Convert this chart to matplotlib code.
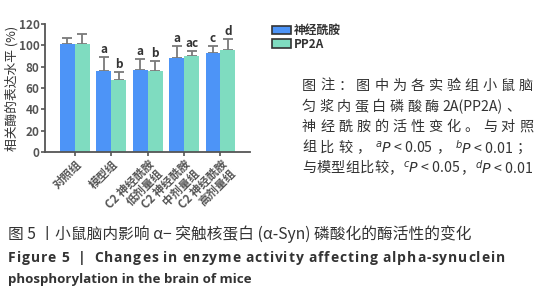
import numpy as np
import matplotlib
matplotlib.use("Agg")
import matplotlib.pyplot as plt
from matplotlib.patches import Patch

plt.rcParams["font.family"] = ["Noto Sans CJK SC", "DejaVu Sans"]

groups = ["对照组", "模型组", "C2 神经酰胺\n低剂量组", "C2 神经酰胺\n中剂量组", "C2 神经酰胺\n高剂量组"]
ceramide = [101, 76, 77, 88, 93]
ceramide_err = [6, 13, 10, 11, 6]
pp2a = [101, 68, 76, 90, 96]
pp2a_err = [10, 7, 9, 5, 10]
ceramide_sig = ["", "a", "a", "a", "c"]
pp2a_sig = ["", "b", "b", "ac", "d"]
series_names = ["神经酰胺", "PP2A"]
yticks = [0, 20, 40, 60, 80, 100, 120]

BLUE = "#4d94f7"
GREEN = "#7fdcc0"
AX = "#555555"
TXT = "#333333"

W, H = 552, 300
fig = plt.figure(figsize=(W / 100, H / 100), dpi=100)
renderer = fig.canvas.get_renderer()


def justify(tokens, x0, x1, y, space=0.0, **kw):
    """Lay tokens out from x0 to x1 (pixels), spreading the slack evenly.
    A " " token is not drawn, it just takes `space` pixels plus its share."""
    arts, widths = [], []
    for t in tokens:
        if t == " ":
            arts.append(None)
            widths.append(space)
            continue
        a = fig.text(0, 1 - y / H, t, va="center", ha="left", **kw)
        arts.append(a)
        widths.append(a.get_window_extent(renderer).width)
    gap = (x1 - x0 - sum(widths)) / max(len(tokens) - 1, 1)
    px = x0
    for a, wd in zip(arts, widths):
        if a is not None:
            a.set_x(px / W)
        px += wd + gap


ax = fig.add_axes([0.0815, 0.493, 0.372, 0.427])

x = np.arange(len(groups))
w = 0.41
ax.bar(x - w / 2, ceramide, w, color=BLUE, zorder=2)
ax.bar(x + w / 2, pp2a, w, color=GREEN, zorder=2)
ax.errorbar(x - w / 2, ceramide, yerr=[np.zeros(5), ceramide_err], fmt="none",
            ecolor="#7a7a7a", elinewidth=1.3, capsize=3.5, capthick=1.3, zorder=1)
ax.errorbar(x + w / 2, pp2a, yerr=[np.zeros(5), pp2a_err], fmt="none",
            ecolor="#7a7a7a", elinewidth=1.3, capsize=3.5, capthick=1.3, zorder=1)

for xi, v, e, s in zip(x - w / 2, ceramide, ceramide_err, ceramide_sig):
    if s:
        ax.text(xi, v + e + 1, s, ha="center", va="bottom", fontsize=8.5,
                fontweight="bold", color=TXT)
for xi, v, e, s in zip(x + w / 2, pp2a, pp2a_err, pp2a_sig):
    if s:
        ax.text(xi, v + e + 1, s, ha="center", va="bottom", fontsize=8.5,
                fontweight="bold", color=TXT)

ax.set_xlim(-0.82, 4.82)
ax.set_ylim(0, 120)
ax.set_yticks(yticks)
ax.set_yticklabels([str(t) for t in yticks], fontsize=8.5, fontweight="bold", color=TXT)
ax.set_xticks(x)
ax.set_xticklabels(groups, rotation=45, ha="right", rotation_mode="anchor",
                   fontsize=8.3, fontweight="bold", color="#2b2b3a", linespacing=0.95)
ax.set_ylabel("相关酶的表达水平 (%)", fontsize=9.2, color=TXT, labelpad=0)
for side in ["top", "right"]:
    ax.spines[side].set_visible(False)
for side in ["left", "bottom"]:
    ax.spines[side].set_color(AX)
    ax.spines[side].set_linewidth(1.3)
ax.tick_params(axis="both", colors=AX, length=3, width=1.2, pad=1)

handles = [Patch(facecolor=BLUE, edgecolor="#333333", linewidth=1.2),
           Patch(facecolor=GREEN, edgecolor="#333333", linewidth=1.2)]
leg = fig.legend(handles, series_names, loc="upper left", bbox_to_anchor=(0.485, 0.935),
                 frameon=False, fontsize=8.5, handlelength=1.6, handleheight=0.75,
                 handletextpad=0.2, labelspacing=0.05, borderaxespad=0)
for t in leg.get_texts():
    t.set_fontweight("bold")
    t.set_color(TXT)

# figure note (justified block on the right)
note_kw = dict(fontsize=10.2, color=TXT)
justify(list("图注：图中为各实验组小鼠脑"), 302, 533, 86, **note_kw)
justify(list("匀浆内蛋白磷酸酶") + ["2A(PP2A)", "、"], 302, 520, 106.5, **note_kw)
justify(list("神经酰胺的活性变化。与对照"), 302, 533, 127, **note_kw)
justify(["组", "比", "较", "，", r"$^{a}P$ < 0.05", "，", r"$^{b}P$ < 0.01", "；"],
        302, 531, 147.5, **note_kw)
justify(list("与模型组比较") + ["，", r"$^{c}P$ < 0.05", "，", r"$^{d}P$ < 0.01"],
        302, 533, 168, **note_kw)

# captions
fig.text(8 / W, 1 - 234 / H, "图 5 丨小鼠脑内影响 α− 突触核蛋白 (α-Syn) 磷酸化的酶活性的变化",
         fontsize=11.3, color=TXT, va="center")
cap_kw = dict(fontsize=10, fontweight="bold", color=TXT, family=["Open Sans", "DejaVu Sans"])
justify(list("Figure 5") + [" ", " ", "|", " ", " "]
        + list("Changes in enzyme activity affecting alpha-synuclein"),
        8, 505, 258, space=3.0, **cap_kw)
fig.text(8 / W, 1 - 280 / H, "phosphorylation in the brain of mice",
         va="center", **{**cap_kw, "fontsize": 9.6})

fig.savefig("out.png", dpi=100, facecolor="white")
